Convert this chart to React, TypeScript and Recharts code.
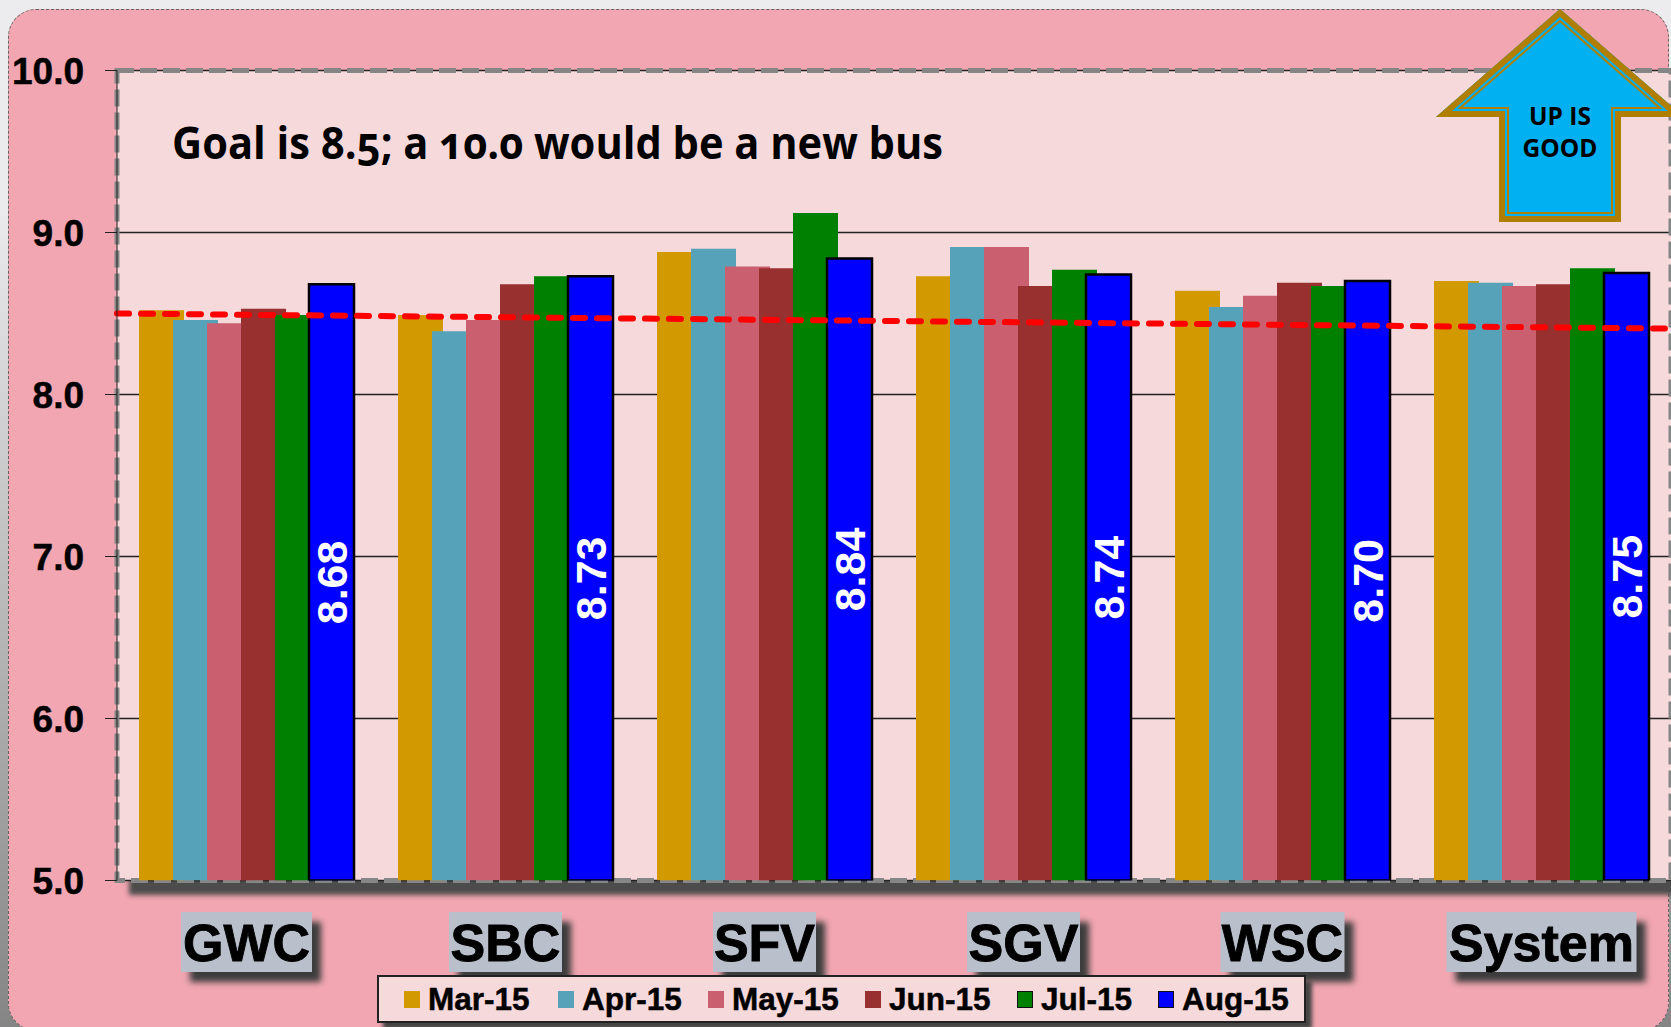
import {
  Bar, CartesianGrid, ComposedChart, LabelList, Legend, ReferenceArea, ReferenceLine, XAxis, YAxis,
} from 'recharts'

const CATEGORIES = ['GWC', 'SBC', 'SFV', 'SGV', 'WSC', 'System']
const MONTHS = ['Mar-15', 'Apr-15', 'May-15', 'Jun-15', 'Jul-15', 'Aug-15']

const MAR_15 = [8.52, 8.49, 8.88, 8.73, 8.64, 8.70]
const APR_15 = [8.46, 8.39, 8.90, 8.91, 8.54, 8.69]
const MAY_15 = [8.44, 8.46, 8.79, 8.91, 8.61, 8.67]
const JUN_15 = [8.53, 8.68, 8.78, 8.67, 8.69, 8.68]
const JUL_15 = [8.49, 8.73, 9.12, 8.77, 8.67, 8.78]
const AUG_15 = [8.68, 8.73, 8.84, 8.74, 8.70, 8.75]

const SERIES = [MAR_15, APR_15, MAY_15, JUN_15, JUL_15, AUG_15]
const COLORS = ['#D29A00', '#56A2B8', '#CA5F6F', '#993030', '#008000', '#0000FF']

const Y_TICKS = [5, 6, 7, 8, 9, 10]
const GROUP_EDGES = [0, 1, 2, 3, 4, 5, 6]
const TREND_START = 8.5
const TREND_END = 8.407

const data = CATEGORIES.map((name, i) => {
  const row: Record<string, string | number> = { name }
  MONTHS.forEach((m, s) => { row[m] = SERIES[s][i] })
  return row
})

const LABEL_BOX: Record<string, number> = { GWC: 131, SBC: 113, SFV: 103, SGV: 113, WSC: 124, System: 190 }

const ARROW = '1560,9 1684,117 1621,117 1621,222 1499,222 1499,117 1436,117'

function CategoryTick({ x, payload }: any) {
  const w = LABEL_BOX[payload.value] ?? 120
  return (
    <g>
      <rect x={x - w / 2} y={912} width={w} height={60} fill="#B9C0CC"
        style={{ filter: 'drop-shadow(9px 10px 3px #3c3c3c)' }} />
      <text x={x} y={961} textAnchor="middle" fontFamily="Liberation Sans" fontWeight="bold" fontSize={52}
        fill="#000" stroke="#000" strokeWidth={0.9}>
        {payload.value}
      </text>
    </g>
  )
}

function LegendBox({ payload }: any) {
  return (
    <div style={{
      position: 'relative', width: 929, height: 48, boxSizing: 'border-box', background: '#F5D9DB',
      border: '2px solid #222', boxShadow: '6px 6px 4px #444',
    }}>
      {(payload ?? []).map((p: any, i: number) => (
        <span key={p.value} style={{
          position: 'absolute', left: [25, 179, 329, 486, 638, 779][i], top: 0, height: 44,
          display: 'flex', alignItems: 'center', whiteSpace: 'nowrap',
          font: 'bold 31.5px "Liberation Sans"', color: '#000', WebkitTextStroke: '0.5px #000',
        }}>
          <i style={{
            display: 'inline-block', width: 16, height: 17, marginRight: 8, background: p.color,
            boxSizing: 'border-box', border: i >= 4 ? '1.5px solid #111' : 'none',
          }} />
          {p.value}
        </span>
      ))}
    </div>
  )
}

export default function App() {
  return (
    <div style={{
      position: 'absolute', left: 0, top: 0, width: 1671, height: 1027, overflow: 'hidden',
      background: 'linear-gradient(180deg, #ECECEE 0%, #EBEBED 20%, #858585 100%)',
    }}>
      {/* rounded slide panel */}
      <div style={{
        position: 'absolute', left: 8, top: 9, width: 1661, height: 1022, borderRadius: 28,
        background: '#F1A6B1', border: '1px dashed #666', boxSizing: 'border-box',
      }} />
      {/* shadow under the plot area */}
      <div style={{
        position: 'absolute', left: 120, top: 70, width: 1554, height: 811,
        boxShadow: '9px 14px 5px #4c4c4c',
      }} />
      <div style={{ position: 'absolute', left: 0, top: 0 }}>
        <ComposedChart
          width={1671}
          height={1027}
          data={data}
          margin={{ top: 70.5, right: 0, bottom: 0, left: 0 }}
          barSize={45}
          barGap={-11}
        >
          <CartesianGrid fill="#F5D9DB" vertical={false} stroke="#222" strokeWidth={1.5} strokeOpacity={1} />
          <XAxis
            xAxisId="edges"
            type="number"
            dataKey={() => 0}
            domain={[0, 6]}
            ticks={GROUP_EDGES}
            tick={false}
            tickSize={17}
            height={0}
            stroke="#111"
            allowDataOverflow
          />
          <XAxis
            dataKey="name"
            height={146.5}
            tickLine={false}
            axisLine={false}
            interval={0}
            tick={<CategoryTick />}
          />
          <YAxis
            width={117}
            domain={[5, 10]}
            ticks={Y_TICKS}
            interval={0}
            allowDataOverflow
            tickSize={12}
            tickMargin={21}
            tickFormatter={(v) => v.toFixed(1)}
            tick={{ fill: '#000', stroke: '#000', strokeWidth: 0.5, fontSize: 37, fontWeight: 'bold', fontFamily: 'Liberation Sans' }}
            stroke="#222"
          />
          <ReferenceArea
            xAxisId="edges"
            x1={0}
            x2={6}
            y1={5}
            y2={10}
            fill="none"
            stroke="#868686"
            strokeWidth={5}
            strokeDasharray="17 6"
            ifOverflow="visible"
          />
          {MONTHS.map((m, i) => (
            <Bar
              key={m}
              dataKey={m}
              name={m}
              fill={COLORS[i]}
              stroke={i === 5 ? '#000' : 'none'}
              strokeWidth={i === 5 ? 2.5 : 0}
              isAnimationActive={false}
            >
              {i === 5 && (
                <LabelList
                  dataKey={m}
                  position="center"
                  angle={-90}
                  fill="#fff"
                  fontSize={43}
                  fontWeight="bold"
                  fontFamily="Liberation Sans"
                  formatter={(v: any) => Number(v).toFixed(2)}
                />
              )}
            </Bar>
          ))}
          <ReferenceLine
            xAxisId="edges"
            segment={[{ x: 0, y: TREND_START }, { x: 6, y: TREND_END }]}
            stroke="#FF0000"
            strokeWidth={6}
            strokeDasharray="12 12"
            strokeLinecap="round"
          />
          <Legend
            layout="horizontal"
            verticalAlign="middle"
            itemSorter={null}
            wrapperStyle={{ left: 377, top: 975, width: 929, height: 48, bottom: 'auto', right: 'auto' }}
            content={<LegendBox />}
          />
        </ComposedChart>
      </div>
      {/* headline and arrow callout */}
      <svg width={1671} height={1027} style={{ position: 'absolute', left: 0, top: 0 }}>
        <text x={172} y={159} fontFamily="Open Sans" fontWeight={700} fontSize={45} fill="#000"
          textLength={771} lengthAdjust="spacingAndGlyphs" style={{ fontVariantNumeric: 'oldstyle-nums' }}>
          Goal is 8.5; a 10.0 would be a new bus
        </text>
        <defs>
          <clipPath id="arrow-clip"><polygon points={ARROW} /></clipPath>
        </defs>
        <g clipPath="url(#arrow-clip)">
          <polygon points={ARROW} fill="#00B0F0" />
          <polygon points={ARROW} fill="none" stroke="#B07F00" strokeWidth={20} strokeLinejoin="miter" />
          <polygon points={ARROW} fill="none" stroke="#00B0F0" strokeWidth={16} strokeLinejoin="miter" />
          <polygon points={ARROW} fill="none" stroke="#B07F00" strokeWidth={12} strokeLinejoin="miter" />
        </g>
        <text x={1560} y={125} textAnchor="middle" fontFamily="Open Sans" fontWeight={700} fontSize={24.5} fill="#000">UP IS</text>
        <text x={1560} y={157} textAnchor="middle" fontFamily="Open Sans" fontWeight={700} fontSize={24.5} fill="#000">GOOD</text>
      </svg>
    </div>
  )
}
